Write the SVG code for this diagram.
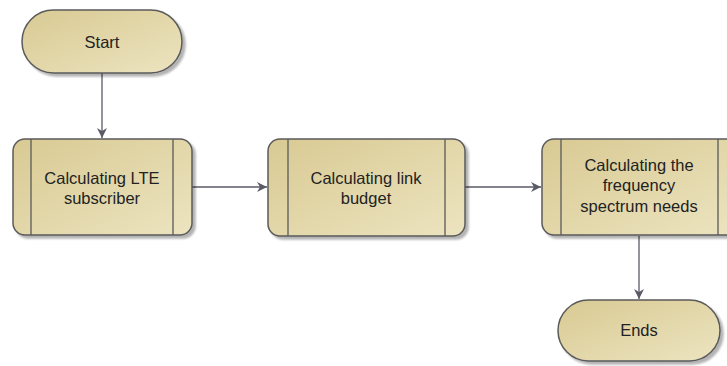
<svg xmlns="http://www.w3.org/2000/svg" width="727" height="366" viewBox="0 0 727 366">
<defs>
<linearGradient id="fill" x1="0" y1="0" x2="1" y2="1">
<stop offset="0" stop-color="#d9ca93"/>
<stop offset="1" stop-color="#ece4c0"/>
</linearGradient>
<marker id="arr" viewBox="0 0 10 10" refX="10" refY="5" markerWidth="10" markerHeight="10" markerUnits="userSpaceOnUse" orient="auto">
<path d="M0,0 L10,5 L0,10 L3,5 Z" fill="#5a5a66"/>
</marker>
<filter id="sh" x="-10%" y="-10%" width="130%" height="130%">
<feGaussianBlur in="SourceAlpha" stdDeviation="0.8"/>
<feOffset dx="2.5" dy="2.5"/>
<feComponentTransfer><feFuncA type="linear" slope="0.3"/></feComponentTransfer>
<feMerge><feMergeNode/><feMergeNode in="SourceGraphic"/></feMerge>
</filter>
</defs>
<style>
.shape{fill:url(#fill);stroke:#5a5a5a;stroke-width:1.5;filter:url(#sh)}
.inner{stroke:#5a5a5a;stroke-width:1.3;fill:none}
.lbl{font-family:"Liberation Sans",Arial,sans-serif;font-size:16.5px;fill:#222;text-anchor:middle}
.conn{stroke:#5a5a66;stroke-width:1.3;fill:none;marker-end:url(#arr)}
</style>
<rect width="727" height="366" fill="#ffffff"/>
<g id="connectors">
<line class="conn" x1="102" y1="73" x2="102" y2="138"/>
<line class="conn" x1="192" y1="187" x2="267" y2="187"/>
<line class="conn" x1="465" y1="187" x2="541" y2="187"/>
<line class="conn" x1="639" y1="236" x2="639" y2="299"/>
</g>
<g id="start">
<rect class="shape" x="22" y="10" width="160" height="63" rx="31.5" ry="31.5"/>
<text class="lbl" x="102" y="48">Start</text>
</g>
<g id="calc-lte">
<rect class="shape" x="13" y="139" width="179" height="96" rx="12" ry="12"/>
<line class="inner" x1="31" y1="139" x2="31" y2="235"/>
<line class="inner" x1="173" y1="139" x2="173" y2="235"/>
<text class="lbl" x="102" y="184">Calculating LTE</text>
<text class="lbl" x="102" y="204">subscriber</text>
</g>
<g id="calc-link">
<rect class="shape" x="268" y="139" width="197" height="97" rx="12" ry="12"/>
<line class="inner" x1="288" y1="139" x2="288" y2="236"/>
<line class="inner" x1="445" y1="139" x2="445" y2="236"/>
<text class="lbl" x="366" y="184">Calculating link</text>
<text class="lbl" x="366" y="204">budget</text>
</g>
<g id="calc-freq">
<rect class="shape" x="542" y="139" width="197" height="96" rx="12" ry="12"/>
<line class="inner" x1="561" y1="139" x2="561" y2="235"/>
<line class="inner" x1="718" y1="139" x2="718" y2="235"/>
<text class="lbl" x="639" y="171">Calculating the</text>
<text class="lbl" x="639" y="191">frequency</text>
<text class="lbl" x="639" y="212">spectrum needs</text>
</g>
<g id="ends">
<rect class="shape" x="558" y="300" width="162" height="61" rx="30.5" ry="30.5"/>
<text class="lbl" x="639" y="336">Ends</text>
</g>
</svg>
